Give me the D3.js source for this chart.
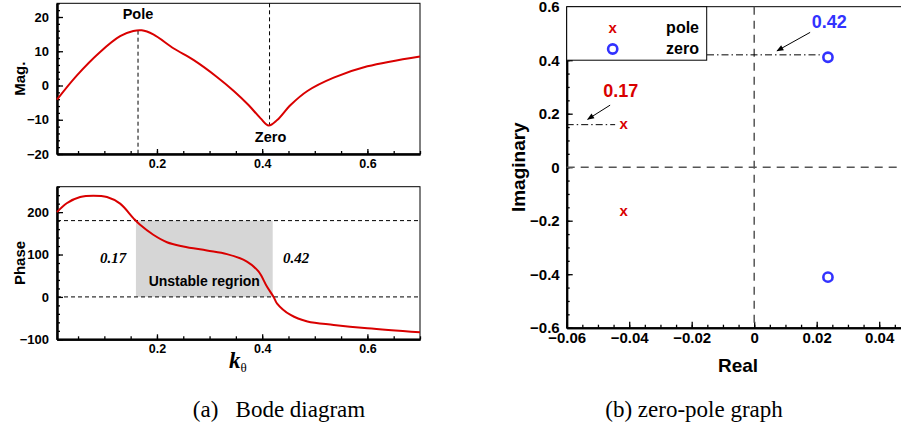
<!DOCTYPE html>
<html>
<head>
<meta charset="utf-8">
<script src="https://cdn.jsdelivr.net/npm/d3@7"></script>
<style>
  body { margin: 0; background: #fff; }
  svg { display: block; font-family: "Liberation Sans", Arial, sans-serif; }
  .axis path { stroke: #000; stroke-width: 2; }
  .axis line { stroke: #000; stroke-width: 1.3; }
  .axis text { font-weight: bold; fill: #000; }
</style>
</head>
<body>
<svg id="chart" width="901" height="432"></svg>
<script>
// magnitude curve (k_theta, Mag.)
var magK   = [0.01, 0.0475, 0.092, 0.13, 0.155, 0.171, 0.193, 0.232, 0.27, 0.314, 0.346, 0.374, 0.397, 0.4125, 0.4285, 0.454, 0.486, 0.536, 0.6, 0.7];
var magVal = [-4.1, 2.9, 9.8, 14.4, 15.9, 16.1, 14.9, 10.8, 7.4, 2.5, -1.6, -5.7, -9.6, -11.7, -10.1, -5.7, -1.6, 2.3, 5.6, 8.5];

// phase curve (k_theta, Phase)
var phaseK   = [0.01, 0.0285, 0.054, 0.079, 0.105, 0.13, 0.155, 0.168, 0.193, 0.219, 0.25, 0.295, 0.333, 0.371, 0.393, 0.409, 0.422, 0.428, 0.454, 0.486, 0.536, 0.6, 0.7];
var phaseVal = [200, 221, 235.6, 238.8, 235.6, 220, 186, 170, 146.6, 129, 119, 109.5, 101, 83.5, 60, 24.4, -0.7, -15, -42.6, -58, -66, -74, -83.5];

// pole / zero positions (real, imaginary)
var poleRe = [-0.0418, -0.0418];
var poleIm = [0.159, -0.166];
var zeroRe = [0.0236, 0.0236];
var zeroIm = [0.411, -0.411];

// markers on the bode plot
var kPole = 0.164, kZero = 0.414;
var unstableK = [0.16, 0.42];
var phaseLimits = [0, 180];

// tick labels
var kTicks = [0.2, 0.4, 0.6];
var magTicks = [-20, -10, 0, 10, 20];
var phaseTicks = [-100, 0, 100, 200];
var reTicks = [-0.06, -0.04, -0.02, 0, 0.02, 0.04];
var imTicks = [-0.6, -0.4, -0.2, 0, 0.2, 0.4, 0.6];

var svg = d3.select("#chart");
var red = "#d90000", blue = "#3232ff";

// ---------- left : bode diagram ----------
var x = d3.scaleLinear().domain([0.01, 0.7]).range([57, 420]);
var yMag = d3.scaleLinear().domain([-20, 24]).range([154, 3.3]);
var yPh = d3.scaleLinear().domain([-100, 260]).range([339.3, 186.7]);

function panel(y, yTicks, yMinor, label) {
  var g = svg.append("g");
  // frame
  g.append("rect").attr("x", x.range()[0]).attr("y", y.range()[1])
    .attr("width", x.range()[1] - x.range()[0]).attr("height", y.range()[0] - y.range()[1])
    .attr("fill", "none").attr("stroke", "#000").attr("stroke-width", 1);

  g.append("g").attr("class", "axis")
    .attr("transform", "translate(0," + y.range()[0] + ")")
    .call(d3.axisBottom(x).tickValues(d3.range(0.05, 0.701, 0.05)).tickSize(-3).tickSizeOuter(0).tickFormat(""));
  g.append("g").attr("class", "axis")
    .attr("transform", "translate(0," + y.range()[0] + ")")
    .call(d3.axisBottom(x).tickValues(kTicks).tickSize(-5).tickSizeOuter(0).tickPadding(5).tickFormat(d3.format(".1f")))
    .selectAll("text").style("font-size", "12.5px");

  g.append("g").attr("class", "axis")
    .attr("transform", "translate(" + x.range()[0] + ",0)")
    .call(d3.axisLeft(y).tickValues(yMinor).tickSize(-3).tickSizeOuter(0).tickFormat(""));
  g.append("g").attr("class", "axis")
    .attr("transform", "translate(" + x.range()[0] + ",0)")
    .call(d3.axisLeft(y).tickValues(yTicks).tickSize(-6).tickSizeOuter(0).tickPadding(8))
    .selectAll("text").style("font-size", "13px");

  g.append("text")
    .attr("transform", "translate(25," + (y.range()[0] + y.range()[1]) / 2 + ") rotate(-90)")
    .attr("text-anchor", "middle").style("font-weight", "bold").style("font-size", "15px")
    .text(label);
  return g;
}

panel(yMag, magTicks, d3.range(-20, 24.1, 2), "Mag.");

// pole / zero guides
svg.append("line").attr("x1", x(kPole)).attr("x2", x(kPole))
  .attr("y1", yMag(16)).attr("y2", yMag(-20))
  .attr("stroke", "#000").attr("stroke-dasharray", "4,3");
svg.append("line").attr("x1", x(kZero)).attr("x2", x(kZero))
  .attr("y1", yMag(24)).attr("y2", yMag(-11.5))
  .attr("stroke", "#000").attr("stroke-dasharray", "4,3");
svg.append("text").attr("x", x(kPole)).attr("y", 19).attr("text-anchor", "middle")
  .style("font-weight", "bold").style("font-size", "14.5px").text("Pole");
svg.append("text").attr("x", x(kZero) + 1).attr("y", 142).attr("text-anchor", "middle")
  .style("font-weight", "bold").style("font-size", "14.5px").text("Zero");

svg.append("path")
  .datum(magK.map(function(k, i) { return [k, magVal[i]]; }))
  .attr("fill", "none").attr("stroke", red).attr("stroke-width", 2)
  .attr("d", d3.line().x(function(d) { return x(d[0]); }).y(function(d) { return yMag(d[1]); }).curve(d3.curveCatmullRom.alpha(0.5)));

// phase panel
svg.append("rect")
  .attr("x", x(unstableK[0])).attr("y", yPh(phaseLimits[1]))
  .attr("width", x(unstableK[1]) - x(unstableK[0]))
  .attr("height", yPh(phaseLimits[0]) - yPh(phaseLimits[1]))
  .attr("fill", "#d6d6d6");

panel(yPh, phaseTicks, d3.range(-100, 260.1, 20), "Phase");

phaseLimits.forEach(function(v) {
  svg.append("line").attr("x1", x.range()[0]).attr("x2", x.range()[1])
    .attr("y1", yPh(v)).attr("y2", yPh(v))
    .attr("stroke", "#000").attr("stroke-dasharray", "4,3");
});

svg.append("path")
  .datum(phaseK.map(function(k, i) { return [k, phaseVal[i]]; }))
  .attr("fill", "none").attr("stroke", red).attr("stroke-width", 2)
  .attr("d", d3.line().x(function(d) { return x(d[0]); }).y(function(d) { return yPh(d[1]); }).curve(d3.curveCatmullRom.alpha(0.5)));

svg.append("text").attr("x", (x(unstableK[0]) + x(unstableK[1])) / 2).attr("y", 286)
  .attr("text-anchor", "middle").style("font-weight", "bold").style("font-size", "14px")
  .text("Unstable regrion");
[["0.17", 113], ["0.42", 296]].forEach(function(d) {
  svg.append("text").attr("x", d[1]).attr("y", 263).attr("text-anchor", "middle")
    .style("font-family", "'Liberation Serif', 'Times New Roman', serif")
    .style("font-weight", "bold").style("font-style", "italic").style("font-size", "15px")
    .text(d[0]);
});

var kLab = svg.append("text").attr("x", 229).attr("y", 368)
  .style("font-family", "'Liberation Serif', 'Times New Roman', serif");
kLab.append("tspan").style("font-weight", "bold").style("font-style", "italic").style("font-size", "23px").text("k");
kLab.append("tspan").attr("dy", 4).style("font-size", "13px").text("θ");

// ---------- right : zero-pole graph ----------
var xr = d3.scaleLinear().domain([-0.06, 0.06]).range([566.7, 941.7]);
var yr = d3.scaleLinear().domain([-0.6, 0.6]).range([327.7, 6.7]);

svg.append("line").attr("x1", xr(-0.06)).attr("x2", xr(0.06)).attr("y1", yr(0.6)).attr("y2", yr(0.6))
  .attr("stroke", "#000").attr("stroke-width", 1);

svg.append("g").attr("class", "axis").attr("transform", "translate(0," + yr(-0.6) + ")")
  .call(d3.axisBottom(xr).tickValues(d3.range(-0.06, 0.0601, 0.005)).tickSize(-3).tickSizeOuter(0).tickFormat(""));
svg.append("g").attr("class", "axis").attr("transform", "translate(0," + yr(-0.6) + ")")
  .call(d3.axisBottom(xr).tickValues(reTicks).tickSize(-6).tickSizeOuter(0).tickPadding(5).tickFormat(d3.format("")))
  .selectAll("text").style("font-size", "15px");
svg.append("g").attr("class", "axis").attr("transform", "translate(" + xr(-0.06) + ",0)")
  .call(d3.axisLeft(yr).tickValues(d3.range(-0.6, 0.601, 0.05)).tickSize(-3).tickSizeOuter(0).tickFormat(""));
svg.append("g").attr("class", "axis").attr("transform", "translate(" + xr(-0.06) + ",0)")
  .call(d3.axisLeft(yr).tickValues(imTicks).tickSize(-6).tickSizeOuter(0).tickPadding(7).tickFormat(d3.format("")))
  .selectAll("text").style("font-size", "15px");

// origin guides
svg.append("line").attr("x1", xr(-0.06)).attr("x2", xr(0.06)).attr("y1", yr(0)).attr("y2", yr(0))
  .attr("stroke", "#555").attr("stroke-width", 1.5).attr("stroke-dasharray", "8,6");
svg.append("line").attr("x1", xr(0)).attr("x2", xr(0)).attr("y1", yr(0.6)).attr("y2", yr(-0.6))
  .attr("stroke", "#555").attr("stroke-width", 1.5).attr("stroke-dasharray", "8,6");

svg.append("text").attr("transform", "translate(525," + yr(0) + ") rotate(-90)")
  .attr("text-anchor", "middle").style("font-weight", "bold").style("font-size", "19px").text("Imaginary");
svg.append("text").attr("x", 738).attr("y", 372).attr("text-anchor", "middle")
  .style("font-weight", "bold").style("font-size", "19px").text("Real");

// dash-dot leaders
var dashDot = "7,3,1.5,3";
svg.append("line").attr("x1", xr(-0.06)).attr("x2", xr(-0.0445)).attr("y1", yr(0.159)).attr("y2", yr(0.159))
  .attr("stroke", "#000").attr("stroke-dasharray", dashDot);
svg.append("line").attr("x1", xr(-0.0151)).attr("x2", xr(0.021)).attr("y1", yr(0.42)).attr("y2", yr(0.42))
  .attr("stroke", "#000").attr("stroke-dasharray", dashDot);

svg.append("defs").append("marker").attr("id", "arr")
  .attr("viewBox", "0 0 10 10").attr("refX", 9).attr("refY", 5)
  .attr("markerWidth", 9).attr("markerHeight", 7).attr("orient", "auto")
  .attr("markerUnits", "userSpaceOnUse")
  .append("path").attr("d", "M0,1 L10,5 L0,9 z").attr("fill", "#000");
svg.append("line").attr("x1", xr(-0.0461)).attr("y1", yr(0.232)).attr("x2", xr(-0.0533)).attr("y2", yr(0.179))
  .attr("stroke", "#000").attr("marker-end", "url(#arr)");
svg.append("line").attr("x1", xr(0.0179)).attr("y1", yr(0.504)).attr("x2", xr(0.0073)).attr("y2", yr(0.435))
  .attr("stroke", "#000").attr("marker-end", "url(#arr)");
svg.append("text").attr("x", xr(-0.0427)).attr("y", 97).attr("text-anchor", "middle")
  .attr("fill", red).style("font-weight", "bold").style("font-size", "18px").text("0.17");
svg.append("text").attr("x", xr(0.024)).attr("y", 27.5).attr("text-anchor", "middle")
  .attr("fill", blue).style("font-weight", "bold").style("font-size", "18px").text("0.42");

// poles and zeros
svg.selectAll(".pole").data(poleRe).enter().append("text").attr("class", "pole")
  .attr("x", function(d) { return xr(d); })
  .attr("y", function(d, i) { return yr(poleIm[i]); })
  .attr("dy", "0.3em").attr("text-anchor", "middle").attr("fill", red)
  .style("font-weight", "bold").style("font-size", "15px").text("x");
svg.selectAll(".zero").data(zeroRe).enter().append("circle").attr("class", "zero")
  .attr("cx", function(d) { return xr(d); })
  .attr("cy", function(d, i) { return yr(zeroIm[i]); })
  .attr("r", 4.6).attr("fill", "none").attr("stroke", blue).attr("stroke-width", 2.6);

// legend
var lg = svg.append("g");
lg.append("rect").attr("x", xr(-0.06)).attr("y", yr(0.6)).attr("width", 140).attr("height", yr(0.4) - yr(0.6))
  .attr("fill", "#fff").attr("stroke", "#000").attr("stroke-width", 1);
lg.append("text").attr("x", 612.7).attr("y", 28.3).attr("dy", "0.3em").attr("text-anchor", "middle")
  .attr("fill", red).style("font-weight", "bold").style("font-size", "15px").text("x");
lg.append("circle").attr("cx", 612.7).attr("cy", 49).attr("r", 4.6)
  .attr("fill", "none").attr("stroke", blue).attr("stroke-width", 2.6);
lg.append("text").attr("x", 699).attr("y", 33).attr("text-anchor", "end")
  .style("font-weight", "bold").style("font-size", "16px").text("pole");
lg.append("text").attr("x", 699).attr("y", 54).attr("text-anchor", "end")
  .style("font-weight", "bold").style("font-size", "16px").text("zero");

// captions
[["(a)   Bode diagram", 279], ["(b) zero-pole graph", 694]].forEach(function(c) {
  svg.append("text").attr("x", c[1]).attr("y", 417).attr("text-anchor", "middle")
    .style("font-family", "'Liberation Serif', 'Times New Roman', serif")
    .style("font-size", "23px").style("white-space", "pre").attr("xml:space", "preserve")
    .text(c[0]);
});
</script>
</body>
</html>
